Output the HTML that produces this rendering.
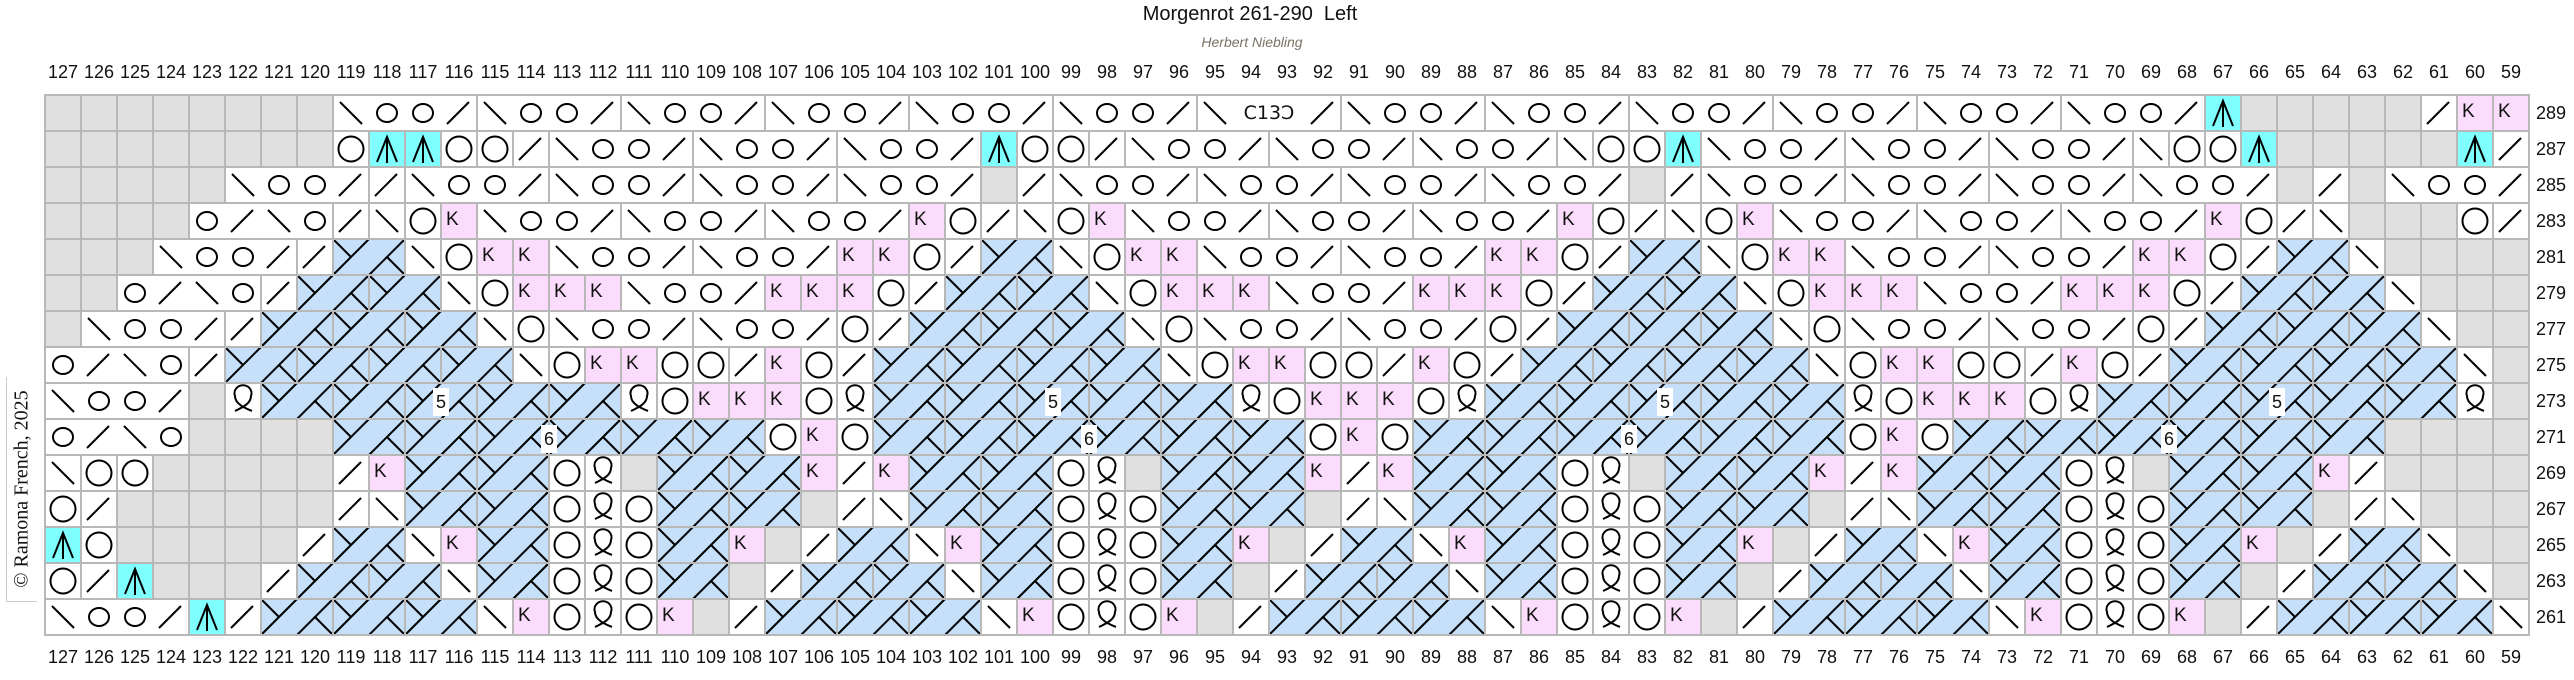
<!DOCTYPE html>
<html><head><meta charset="utf-8">
<style>
html,body{margin:0;padding:0;background:#fff;}
#wrap{position:relative;width:2574px;height:680px;overflow:hidden;font-family:"Liberation Sans",sans-serif;color:#111;}
#g{position:absolute;left:0;top:0;}
.cols{position:absolute;left:45px;display:flex;font-size:18px;line-height:20px;}
.cols span{width:36px;text-align:center;display:block;}
.rl{position:absolute;left:2536px;font-size:18px;line-height:20px;}
.lab{position:absolute;background:#fff;font-size:18px;line-height:28px;width:16px;height:28px;text-align:center;}
#title{position:absolute;left:0;width:2500px;text-align:center;top:3px;font-size:20px;}
#sub{position:absolute;left:0;width:2504px;text-align:center;top:34px;font-size:14px;color:#7a7263;font-style:italic;}
#copy{position:absolute;left:6px;top:377px;width:30px;height:224px;border-left:1px solid #ccc;border-bottom:1px solid #ccc;}
#copy div{position:absolute;left:15px;top:112px;transform:translate(-50%,-50%) rotate(-90deg);white-space:nowrap;font-family:"Liberation Serif",serif;font-size:20px;}
</style></head><body>
<div id="wrap">
<svg id="g" width="2574" height="680" xmlns="http://www.w3.org/2000/svg"></svg>
<div id="title">Morgenrot 261-290&nbsp; Left</div>
<div id="sub">Herbert Niebling</div>
<div id="copy"><div>© Ramona French, 2025</div></div>
<div class="cols" style="top:62px"><span>127</span><span>126</span><span>125</span><span>124</span><span>123</span><span>122</span><span>121</span><span>120</span><span>119</span><span>118</span><span>117</span><span>116</span><span>115</span><span>114</span><span>113</span><span>112</span><span>111</span><span>110</span><span>109</span><span>108</span><span>107</span><span>106</span><span>105</span><span>104</span><span>103</span><span>102</span><span>101</span><span>100</span><span>99</span><span>98</span><span>97</span><span>96</span><span>95</span><span>94</span><span>93</span><span>92</span><span>91</span><span>90</span><span>89</span><span>88</span><span>87</span><span>86</span><span>85</span><span>84</span><span>83</span><span>82</span><span>81</span><span>80</span><span>79</span><span>78</span><span>77</span><span>76</span><span>75</span><span>74</span><span>73</span><span>72</span><span>71</span><span>70</span><span>69</span><span>68</span><span>67</span><span>66</span><span>65</span><span>64</span><span>63</span><span>62</span><span>61</span><span>60</span><span>59</span></div>
<div class="cols" style="top:647px"><span>127</span><span>126</span><span>125</span><span>124</span><span>123</span><span>122</span><span>121</span><span>120</span><span>119</span><span>118</span><span>117</span><span>116</span><span>115</span><span>114</span><span>113</span><span>112</span><span>111</span><span>110</span><span>109</span><span>108</span><span>107</span><span>106</span><span>105</span><span>104</span><span>103</span><span>102</span><span>101</span><span>100</span><span>99</span><span>98</span><span>97</span><span>96</span><span>95</span><span>94</span><span>93</span><span>92</span><span>91</span><span>90</span><span>89</span><span>88</span><span>87</span><span>86</span><span>85</span><span>84</span><span>83</span><span>82</span><span>81</span><span>80</span><span>79</span><span>78</span><span>77</span><span>76</span><span>75</span><span>74</span><span>73</span><span>72</span><span>71</span><span>70</span><span>69</span><span>68</span><span>67</span><span>66</span><span>65</span><span>64</span><span>63</span><span>62</span><span>61</span><span>60</span><span>59</span></div>
<div class="rl" style="top:103px">289</div>
<div class="rl" style="top:139px">287</div>
<div class="rl" style="top:175px">285</div>
<div class="rl" style="top:211px">283</div>
<div class="rl" style="top:247px">281</div>
<div class="rl" style="top:283px">279</div>
<div class="rl" style="top:319px">277</div>
<div class="rl" style="top:355px">275</div>
<div class="rl" style="top:391px">273</div>
<div class="rl" style="top:427px">271</div>
<div class="rl" style="top:463px">269</div>
<div class="rl" style="top:499px">267</div>
<div class="rl" style="top:535px">265</div>
<div class="rl" style="top:571px">263</div>
<div class="rl" style="top:607px">261</div>
<div class="lab" style="left:433px;top:388px">5</div>
<div class="lab" style="left:1045px;top:388px">5</div>
<div class="lab" style="left:1657px;top:388px">5</div>
<div class="lab" style="left:2269px;top:388px">5</div>
<div class="lab" style="left:541px;top:425px">6</div>
<div class="lab" style="left:1081px;top:425px">6</div>
<div class="lab" style="left:1621px;top:425px">6</div>
<div class="lab" style="left:2161px;top:425px">6</div>
<div style="position:absolute;left:1229px;top:101px;width:80px;text-align:center;font-size:19px;line-height:24px;font-family:'DejaVu Sans',sans-serif;">C13Ɔ</div>
</div>
<script>
const rows=[
"gggggggg [boos][boos][boos][boos][boos][boos] [bnns] [boos][boos][boos][boos][boos][boos] A ggggg s KK",
"gggggggg OAAOOs [boos][boos][boos] AO Os [boos][boos][boos] bOOA [boos][boos][boos] bOOA ggggg As",
"ggggg [boos] s [boos] [boos][boos][boos] gs [boos][boos][boos][boos] gs [boos][boos][boos] [boos] gsg [boos]",
"gggg [osbo] sbOK [boos][boos][boos] KOsb OK [boos][boos][boos] KOsbOK [boos][boos] [boos] KOsbgggOs",
"ggg [boos] s C bOKK [boos][boos] KKOs C bOKK [boos][boos] KKOs C bOKK [boos][boos] KKOs C b gggg",
"gg [osbo] s CC bOKKK [boos] KKKOs CC bOKKK [boos] KKKOs CC bOKKK [boos] KKKOs CC b ggg",
"g [boos] s CCC bO [boos][boos] Os CCC bO [boos][boos] Os CCC bO [boos][boos] Os CCC b gg",
"[osbo] s CCCC b OKKOOsKOs CCCC b OKKOOsKOs CCCC b OKKOOsKOs CCCC b g",
"[boos] gQ CCCCC QOKKKOQ CCCCC QOKKKOQ CCCCC QOKKKOQ CCCCC Qg",
"[osbo] gggg CCCCCC OKO CCCCCC OKO CCCCCC OKO CCCCCC gggg",
"bOO ggggg sK CC OQg CC KsK CC OQg CC KsK CC OQg CC KsK CC OQg CC Ks gggg",
"Os gggggg sb CC OQO CC gsb CC OQO CC gsb CC OQO CC gsb CC OQO CC gsb ggg",
"AO ggggg s C bK C OQO C Kgs C bK C OQO C Kgs C bK C OQO C Kgs C bK C OQO C Kgs C b gg",
"OsA ggg s CC b C OQO C gs CC b C OQO C gs CC b C OQO C gs CC b C OQO C gs CC b g",
"[boos] As CCC bK OQOKgs CCC bK OQOKgs CCC bK OQOKgs CCC bK OQOKgs CCC b"
];
const X0=45,Y0=95,S=36;
let fills='',syms='',borders='';
const L=(x1,y1,x2,y2)=>`<line x1="${x1}" y1="${y1}" x2="${x2}" y2="${y2}"/>`;
rows.forEach((r,ri)=>{
  r=r.replace(/\s/g,'');
  const y=Y0+ri*S; let col=0, gs=-1;
  const rect=(c,n)=>`<rect x="${X0+c*S}" y="${y}" width="${n*S}" height="${S}"/>`;
  for(const ch of r){
    if(ch==='['){gs=col;continue;}
    if(ch===']'){borders+=rect(gs,col-gs);gs=-1;continue;}
    const x=X0+col*S;
    if(ch==='C'){
      fills+=`<rect x="${x}" y="${y}" width="72" height="36" fill="#c6e0fa"/>`;
      syms+=L(x,y+36,x+36,y)+L(x+36,y+36,x+72,y)+L(x,y,x+18,y+18)+L(x+54,y+18,x+72,y+36);
      if(gs<0)borders+=rect(col,2);
      col+=2;continue;
    }
    let f='#fff';
    if(ch==='g')f='#e0e0e0';else if(ch==='K')f='#fcdcfc';else if(ch==='A')f='#80ffff';
    fills+=`<rect x="${x}" y="${y}" width="36" height="36" fill="${f}"/>`;
    if(ch==='b')syms+=L(x+7,y+7,x+29,y+29);
    else if(ch==='s')syms+=L(x+6,y+29,x+28,y+7);
    else if(ch==='o')syms+=`<ellipse cx="${x+18}" cy="${y+18}" rx="10" ry="9"/>`;
    else if(ch==='O')syms+=`<circle cx="${x+18}" cy="${y+18}" r="12.5"/>`;
    else if(ch==='A')syms+=`<polyline points="${x+8},${y+31} ${x+18},${y+6} ${x+28},${y+31}"/>`+L(x+18,y+6,x+18,y+32);
    else if(ch==='K')syms+=`<text x="${x+5}" y="${y+22}" font-size="19" fill="#111" stroke="none" font-family="Liberation Sans, sans-serif">K</text>`;
    else if(ch==='Q')syms+=`<path d="M${x+10},${y+28} C${x+16},${y+25} ${x+26},${y+21} ${x+26},${y+13} A8.5 8 0 1 0 ${x+10},${y+13} C${x+10},${y+21} ${x+20},${y+25} ${x+27},${y+28}"/>`;
    if(gs<0)borders+=rect(col,1);
    col++;
  }
});
document.getElementById('g').innerHTML=
 `<g stroke="none">${fills}</g>`+
 `<g fill="none" stroke="#000" stroke-width="2">${syms}</g>`+
 `<g fill="none" stroke="#b8b8b8" stroke-width="2">${borders}</g>`;
</script>
</body></html>
